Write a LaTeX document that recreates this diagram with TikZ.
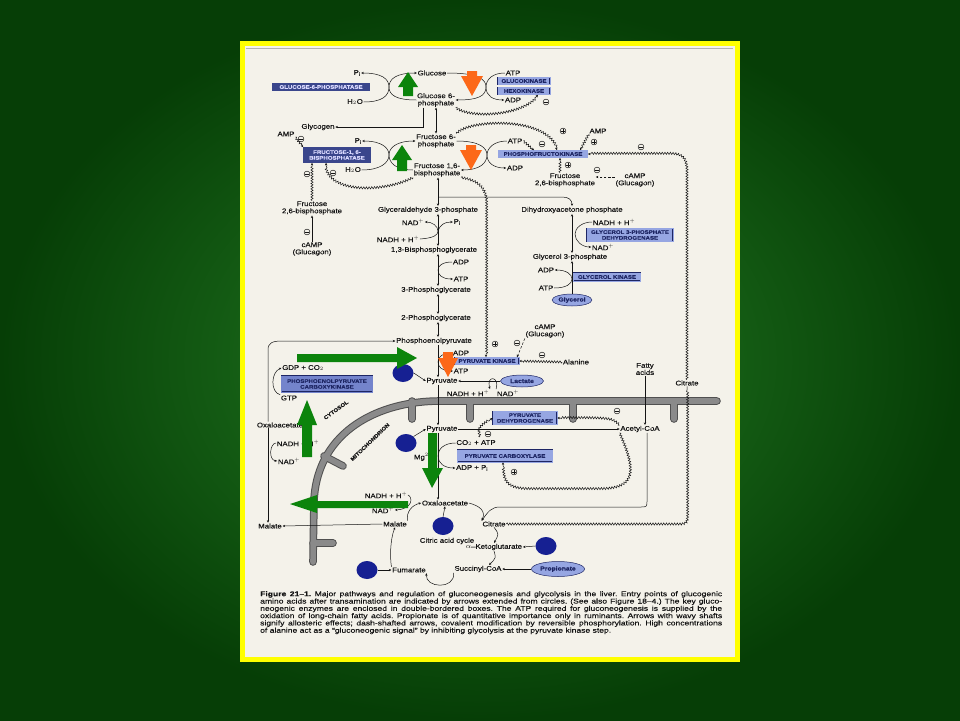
\documentclass[tikz,border=0pt]{standalone}
\usepackage{fontspec}
\setmainfont{Liberation Sans}[FakeStretch=1.15, FakeBold=0.2]
\newfontfamily\capfont{Liberation Sans}[FakeStretch=1.24, FakeBold=0.3]
\usetikzlibrary{arrows.meta,shapes.geometric,decorations.pathmorphing}
\definecolor{bginner}{RGB}{36,126,36}
\definecolor{bgouter}{RGB}{6,62,6}
\definecolor{framey}{RGB}{255,255,0}
\definecolor{paper}{RGB}{244,242,234}
\definecolor{boxfill}{RGB}{150,166,226}
\definecolor{boxline}{RGB}{30,38,100}
\definecolor{darkbox}{RGB}{58,70,140}
\definecolor{midbox}{RGB}{116,132,204}
\definecolor{aablue}{RGB}{22,32,146}
\definecolor{arrowgreen}{RGB}{12,132,12}
\definecolor{arroworange}{RGB}{252,104,24}
\definecolor{membranegray}{RGB}{138,138,138}
\definecolor{membraneedge}{RGB}{80,80,80}
\definecolor{ink}{RGB}{20,20,20}
\tikzset{
  >={Stealth[length=2.6pt,width=2.3pt]},
  lbl/.style={font=\fontsize{6.8}{7.2}\selectfont, inner sep=0.6pt, align=center, text=ink},
  enz/.style={draw=boxline, double=boxfill, double distance=0.6pt, line width=0.5pt, fill=boxfill,
    font=\bfseries\fontsize{5.3}{5.8}\selectfont, text=boxline, inner sep=1pt, align=center},
  darkenz/.style={enz, double=darkbox, fill=darkbox, text=white!85!blue},
  midenz/.style={enz, double=midbox, fill=midbox},
  ell/.style={ellipse, draw=boxline, line width=0.5pt, fill=boxfill, font=\bfseries\fontsize{5.9}{6.2}\selectfont,
    text=boxline, inner sep=0.5pt},
  aa/.style={ellipse, fill=aablue, minimum width=21pt, minimum height=18pt},
  conn/.style={draw=ink, line width=0.5pt},
  dasharr/.style={conn, dash pattern=on 2.6pt off 1.6pt},
  wavy/.style={draw=ink, line width=0.5pt, decorate,
    decoration={snake, amplitude=1.1pt, segment length=2.7pt, post length=2.6pt}},
  sgn/.style={circle, draw=ink, line width=0.5pt, inner sep=0pt, minimum size=5.8pt},
  inh/.style={sgn, path picture={\draw[ink, line width=0.6pt]
    ([xshift=-1.7pt]path picture bounding box.center) -- ([xshift=1.7pt]path picture bounding box.center);}},
  act/.style={sgn, path picture={\draw[ink, line width=0.6pt]
    ([xshift=-1.7pt]path picture bounding box.center) -- ([xshift=1.7pt]path picture bounding box.center)
    ([yshift=-1.7pt]path picture bounding box.center) -- ([yshift=1.7pt]path picture bounding box.center);}},
  region/.style={font=\bfseries\fontsize{5.2}{5.6}\selectfont, text=ink, inner sep=0pt}
}
\begin{document}
\begin{tikzpicture}[x=1pt,y=-1pt]

\def\GREENARR{arrowgreen}
\def\ORANGEARR{arroworange}
	\useasboundingbox (0,0) rectangle (960,720);
	\shade[inner color=bginner, outer color=bgouter] (0,0) rectangle (960,720);
	\draw[framey, line width=5pt, fill=paper] (242.5,43.5) rectangle (737.5,659.5);
	\draw[black!30, line width=0.6pt] (246,48) -- (733,48);

	% membrane
	\foreach \w/\c in {7.6/membraneedge,5.6/membranegray} {
	  \draw[\c, line width=\w pt, line cap=round] (717,401) -- (440,401) .. controls (380,401) and (318,430) .. (314,500) -- (313,562);
	  \foreach \cx in {412,470,573,674}
	    \draw[\c, line width=\w pt, line cap=round] (\cx,401) -- (\cx,419);
	  \draw[\c, line width=\w pt, line cap=round] (324,456) -- (343,466);
	  \draw[\c, line width=\w pt, line cap=round] (313,543) -- (333,543);
	}
	\node[region, rotate=36] (cyto) at (336,410) {CYTOSOL};
	\node[region, rotate=44] (mito) at (370,442) {MITOCHONDRION};

	\coordinate (ax) at (438,0);
	\coordinate (ax2) at (572,0);
	\coordinate (lft) at (268,0);

	% glucose step
	\node[lbl] (pi1) at (357,73) {P$_\mathrm{i}$};
	\node[darkenz, minimum width=97pt, minimum height=7pt] (gpase) at (321,87) {GLUCOSE-6-PHOSPHATASE};
	\node[lbl] (hoh1) at (355,102) {H$_2$O};
	\node[lbl] (glc) at (432,73) {Glucose};
	\node[lbl] (g6p) at (436,100) {Glucose 6-\\phosphate};
	\node[lbl] (atp1) at (513,73) {ATP};
	\node[enz, minimum width=52pt, minimum height=7pt] (gk) at (524,81) {GLUCOKINASE};
	\node[enz, minimum width=52pt, minimum height=7pt] (hk) at (524,91) {HEXOKINASE};
	\node[lbl] (adp1) at (513,100) {ADP};
	\node[inh] (i1) at (546,102) {};
	\node[lbl] (glyc) at (318,127) {Glycogen};

	% fructose step
	\node[lbl] (amp1) at (286,134) {AMP};
	\node[inh] (i2) at (301,139) {};
	\node[darkenz, minimum width=67pt, minimum height=15pt] (fbpase) at (337,155) {FRUCTOSE-1, 6-\\BISPHOSPHATASE};
	\node[lbl] (pi2) at (358,141) {P$_\mathrm{i}$};
	\node[lbl] (hoh2) at (353,170) {H$_2$O};
	\node[lbl] (f6p) at (436,141) {Fructose 6-\\phosphate};
	\node[lbl] (fbp) at (437,170) {Fructose 1,6-\\bisphosphate};
	\node[lbl] (atp2) at (515,141) {ATP};
	\node[enz, minimum width=89pt, minimum height=7pt] (pfk) at (543,154) {PHOSPHOFRUCTOKINASE};
	\node[lbl] (adp2) at (515,168) {ADP};
	\node[inh] (i3) at (542,144) {};
	\node[act] (a1) at (563,131) {};
	\node[lbl] (amp2) at (598,131) {AMP};
	\node[act] (a2) at (594,142) {};
	\node[act] (a3) at (568,165) {};
	\node[lbl] (f26bpb) at (565,180) {Fructose\\2,6-bisphosphate};
	\node[lbl] (camp1) at (635,180) {cAMP\\(Glucagon)};
	\node[inh] (i4) at (597,170) {};
	\node[inh] (i5) at (641,147) {};
	\node[inh] (i6) at (307,174) {};
	\node[inh] (i7) at (333,173) {};
	\node[lbl] (f26bpa) at (312,208) {Fructose\\2,6-bisphosphate};
	\node[inh] (i8) at (307,232) {};
	\node[lbl] (camp2) at (312,249) {cAMP\\(Glucagon)};

	% triose and glycolysis
	\node[lbl] (gap) at (428,210) {Glyceraldehyde 3-phosphate};
	\node[lbl] (nad1) at (413,222) {NAD$^+$};
	\node[lbl] (pi3) at (457,222) {P$_\mathrm{i}$};
	\node[lbl] (nadh1) at (398,239) {NADH + H$^+$};
	\node[lbl] (bpg) at (434,250) {1,3-Bisphosphoglycerate};
	\node[lbl] (adp3) at (461,262) {ADP};
	\node[lbl] (atp3) at (461,279) {ATP};
	\node[lbl] (pg3) at (436,290) {3-Phosphoglycerate};
	\node[lbl] (pg2) at (436,318) {2-Phosphoglycerate};
	\node[lbl] (pep) at (434,341) {Phosphoenolpyruvate};
	\node[lbl] (dhap) at (572,210) {Dihydroxyacetone phosphate};
	\node[lbl] (nadh2) at (614,222) {NADH + H$^+$};
	\node[enz, minimum width=86pt, minimum height=13pt] (gpdh) at (630,235) {GLYCEROL 3-PHOSPHATE\\DEHYDROGENASE};
	\node[lbl] (nad2) at (603,247) {NAD$^+$};
	\node[lbl] (g3p) at (570,257) {Glycerol 3-phosphate};
	\node[lbl] (adp4) at (546,270) {ADP};
	\node[lbl] (atp4) at (546,288) {ATP};
	\node[enz, minimum width=67pt, minimum height=8pt] (glk) at (607,277) {GLYCEROL KINASE};
	\node[ell, minimum width=31pt, minimum height=12pt] (glyl) at (572,300) {Glycerol};

	% pyruvate kinase
	\node[lbl] (camp3) at (545,331) {cAMP\\(Glucagon)};
	\node[act] (a4) at (495,344) {};
	\node[inh] (i9) at (517,343) {};
	\node[enz, minimum width=64pt, minimum height=7pt] (pk) at (487,361) {PYRUVATE KINASE};
	\node[lbl] (ala) at (576,362) {Alanine};
	\node[inh] (i10) at (542,355) {};
	\node[lbl] (adp5) at (461,353) {ADP};
	\node[lbl] (atp5) at (461,371) {ATP};
	\node[lbl] (pyr1) at (442,381) {Pyruvate};
	\node[aa] (c1) at (403,373) {};
	\node[ell, minimum width=43pt, minimum height=12pt] (lac) at (522,381) {Lactate};
	\node[lbl] (nadh3) at (468,393) {NADH + H$^+$};
	\node[lbl] (nad3) at (508,393) {NAD$^+$};
	\node[lbl] (fa) at (645,369) {Fatty\\acids};
	\node[lbl] (citc) at (687,383) {Citrate};

	% PEPCK
	\node[lbl] (gdp) at (303,368) {GDP + CO$_2$};
	\node[midenz, minimum width=91pt, minimum height=16pt] (pepck) at (327,384) {PHOSPHOENOLPYRUVATE\\CARBOXYKINASE};
	\node[lbl] (gtp) at (289,398) {GTP};
	\node[lbl] (oaac) at (280,425) {Oxaloacetate};
	\node[lbl] (nadh4) at (298,443) {NADH + H$^+$};
	\node[lbl] (nad4) at (289,461) {NAD$^+$};
	\node[lbl] (malc) at (270,526) {Malate};

	% mitochondrion
	\node[lbl] (pyr2) at (442,429) {Pyruvate};
	\node[enz, minimum width=64pt, minimum height=13pt] (pdh) at (525,418) {PYRUVATE\\DEHYDROGENASE};
	\node[lbl] (acoa) at (640,429) {Acetyl-CoA};
	\node[inh] (i11) at (617,411) {};
	\node[inh] (i12) at (488,434) {};
	\node[aa] (c2) at (406,443) {};
	\node[lbl] (co2atp) at (476,443) {CO$_2$ + ATP};
	\node[lbl] (mg) at (424,457) {Mg$^{2+}$};
	\node[enz, minimum width=95pt, minimum height=12pt] (pc) at (505,456) {PYRUVATE CARBOXYLASE};
	\node[lbl] (adppi) at (472,468) {ADP + P$_\mathrm{i}$};
	\node[act] (a5) at (514,472) {};
	\node[lbl] (oaam) at (445,503) {Oxaloacetate};
	\node[lbl] (nadh5) at (386,495) {NADH + H$^+$};
	\node[lbl] (nad5) at (383,510) {NAD$^+$};
	\node[lbl] (malm) at (395,524) {Malate};
	\node[lbl] (cit) at (494,524) {Citrate};
	\node[aa] (c3) at (443,526) {};
	\node[lbl] (cac) at (447,541) {Citric acid cycle};
	\node[lbl] (akg) at (494,547) {$\alpha$–Ketoglutarate};
	\node[aa] (c4) at (546,546) {};
	\node[lbl] (fum) at (409,570) {Fumarate};
	\node[aa] (c5) at (367,570) {};
	\node[lbl] (succ) at (478,569) {Succinyl-CoA};
	\node[ell, minimum width=53pt, minimum height=15pt] (prop) at (558,569) {Propionate};

	% connectors, top
	\coordinate (m1) at (389,87);
	\draw[conn,<-] (pi1.east) .. controls (382,73) and (389,79) .. (m1) .. controls (389,96) and (382,102) .. (hoh1.east);
	\draw[conn,->] (g6p.west) .. controls (396,100) and (389,95) .. (m1) .. controls (389,79) and (396,73) .. (glc.west);
	\coordinate (m2) at (486,87);
	\draw[conn,->] (glc.east) .. controls (478,73) and (486,79) .. (m2) .. controls (486,96) and (478,100) .. (g6p.east);
	\draw[conn,->] (atp1.west) .. controls (493,73) and (486,79) .. (m2) .. controls (486,96) and (493,100) .. (adp1.west);
	\coordinate (m3) at (389,155);
	\draw[conn,<-] (pi2.east) .. controls (382,141) and (389,148) .. (m3) .. controls (389,163) and (380,170) .. (hoh2.east);
	\draw[conn,->] (fbp.west) .. controls (396,170) and (389,163) .. (m3) .. controls (389,148) and (396,141) .. (f6p.west);
	\coordinate (m4) at (487,155);
	\draw[conn,->] (f6p.east) .. controls (480,141) and (487,148) .. (m4) .. controls (487,163) and (480,170) .. (fbp.east);
	\draw[conn,->] (atp2.west) .. controls (494,141) and (487,148) .. (m4) .. controls (487,163) and (494,168) .. (adp2.west);
	\draw[conn,->] ([xshift=-13pt]g6p.south) |- (glyc.east);
	\draw[conn,<->] (g6p.south) -- (f6p.north);
	\draw[wavy,->] (g6p.south east) .. controls (470,118) and (522,116) .. ([xshift=14pt]hk.south);
	\draw[wavy,->] (f6p.north east) .. controls (468,120) and (548,116) .. ([xshift=14pt]pfk.north);
	\draw[wavy,->] (amp2.south west) -- ([xshift=37pt]pfk.north);
	\draw[wavy,->] (atp2.east) -- ([xshift=-9pt]pfk.north);
	\draw[wavy,->] ([xshift=-5pt]f26bpb.north) -- ([xshift=17pt]pfk.south);
	\draw[dasharr,->] ([yshift=3pt]camp1.west) -- ([yshift=3pt]f26bpb.east);
	\draw[wavy,->] (citc.north) -- (687,172) .. controls (687,158) and (682,154) .. (670,154) -- (pfk.east);
	\draw[wavy,->] (amp1.south east) -- (fbpase.north west);
	\draw[wavy,->] (fbp.south west) .. controls (385,192) and (326,194) .. ([xshift=-11pt]fbpase.south);
	\draw[wavy,->] (f26bpa.north) -- (f26bpa.north |- fbpase.south);
	\draw[conn,->] (camp2.north) -- (f26bpa.south);

	% glycolysis
	\draw[conn,<->] (fbp.south -| ax) -- (gap.north -| ax);
	\coordinate (br1) at (438,197);
	\draw[conn,->] (br1) -- (562,197) .. controls (569,197) and (572,200) .. (dhap.north -| ax2);
	\draw[wavy,->] (fbp.south east) .. controls (476,180) and (486,186) .. (486,204) -- ([xshift=-1pt]pk.north);
	\foreach \a/\b in {gap/bpg,bpg/pg3,pg3/pg2,pg2/pep}
	  \draw[conn,<->] (\a.south -| ax) -- (\b.north -| ax);
	\coordinate (k1) at (438,231);
	\draw[conn,->] (nadh1.east) .. controls (434,238) and (438,235) .. (k1) .. controls (438,226) and (432,222) .. (nad1.east);
	\draw[conn,->] (k1) .. controls (440,225) and (444,222) .. (pi3.west);
	\coordinate (k2) at (438,270);
	\draw[conn,->] (adp3.west) .. controls (442,262) and (438,266) .. (k2) .. controls (438,275) and (442,279) .. (atp3.west);
	\draw[conn,<->] (dhap.south -| ax2) -- (g3p.north -| ax2);
	\coordinate (k3) at (575,234);
	\draw[conn,->] (nadh2.west) .. controls (582,222) and (575,228) .. (k3) .. controls (575,241) and (582,247) .. (nad2.west);
	\draw[conn,->] (glyl.north) -- (g3p.south -| ax2);
	\coordinate (k4) at (572,279);
	\draw[conn,->] (atp4.east) .. controls (566,288) and (572,284) .. (k4) .. controls (572,274) and (566,270) .. (adp4.east);

	% pyruvate
	\draw[dasharr,->] (camp3.south west) -- ([xshift=30pt]pk.north);
	\draw[wavy,->] (ala.west) -- (pk.east);
	\draw[conn,->] (pep.south -| ax) -- (pyr1.north -| ax);
	\coordinate (k5) at (438,362);
	\draw[conn,->] (adp5.west) .. controls (442,353) and (438,357) .. (k5) .. controls (438,367) and (442,371) .. (atp5.west);
	\draw[conn,->] (c1.east) -- (pyr1.west);
	\draw[conn,->] (lac.west) -- (pyr1.east);
	\draw[conn,->] (nad3.north west) .. controls (500,376) and (486,375) .. (nadh3.north east);
	\draw[conn,->] (gtp.north west) .. controls (270,392) and (271,372) .. (gdp.west);
	\draw[conn,->] (oaac.north -| lft) -- (268,350) .. controls (268,343) and (272,341) .. (282,341) -- (pep.west);
	\draw[conn,->] (oaac.south -| lft) -- (malc.north -| lft);
	\draw[conn,->] (nadh4.west) .. controls (270,443) and (268,460) .. (nad4.west);

	% mitochondrion
	\draw[conn,->] (pyr1.south -| ax) -- (pyr2.north -| ax);
	\draw[conn,->] (pyr2.east) -- (acoa.west);
	\draw[conn,->] (fa.south) -- (fa.south |- acoa.north);
	\draw[wavy,->] (acoa.north west) .. controls (612,418) .. (pdh.east);
	\coordinate (w1) at (480,437);
	\draw[wavy,->] (w1) .. controls (478,428) .. (pdh.west);
	\draw[conn,->] (c2.north east) -- (pyr2.west);
	\coordinate (k7) at (438,456);
	\draw[conn,->] (co2atp.west) .. controls (444,443) and (438,449) .. (k7) .. controls (438,463) and (444,468) .. (adppi.west);
	\draw[wavy,->] (acoa.south west) .. controls (636,470) and (636,488) .. (600,488) -- (530,488) .. controls (505,488) and (503,480) .. ([xshift=-2pt]pc.south);
	\draw[conn,->] (pyr2.south -| ax) -- (oaam.north -| ax);
	\draw[conn,->] ([xshift=7pt]acoa.south) -- (647,500) .. controls (647,507) .. (640,507) -- (500,507) .. controls (491,507) and (488,512) .. (cit.north west);
	\draw[wavy] (cit.east) -- (680,524) .. controls (687,524) and (687,520) .. (687,514) -- (citc.south);
	\draw[conn,->] (oaam.east) .. controls (480,506) and (486,511) .. (cit.north west);
	\draw[conn,->] (cit.south) .. controls (499,534) .. (akg.north);
	\draw[conn,->] (akg.south) .. controls (496,558) .. (489,565);
	\draw[conn,->] (succ.south west) .. controls (455,590) and (425,588) .. (fum.south east);
	\draw[conn,->] (fum.north west) .. controls (390,558) and (390,540) .. (malm.south);
	\draw[conn,->] (malm.north east) .. controls (406,512) and (412,505) .. (oaam.west);
	\draw[conn,->] (nadh5.east) .. controls (413,497) and (413,509) .. (nad5.east);
	\draw[conn,->] (malm.west) -- (malc.east);
	\draw[conn,->] (c3.north) -- (oaam.south);
	\draw[conn,->] (c4.west) -- (akg.east);
	\draw[conn,->] (c5.east) -- (fum.west);
	\draw[conn,->] (prop.west) -- (succ.east);

	% overlay arrows
	\fill[\GREENARR] (408,72) -- (418,87) -- (413,87) -- (413,96) -- (403,96) -- (403,87) -- (398,87) -- cycle;
	\fill[\GREENARR] (402,145) -- (412,160) -- (407,160) -- (407,171) -- (397,171) -- (397,160) -- (392,160) -- cycle;
	\fill[\ORANGEARR] (472,96) -- (483,76) -- (477,76) -- (477,71) -- (467,71) -- (467,76) -- (461,76) -- cycle;
	\fill[\ORANGEARR] (471,170) -- (482,150) -- (476,150) -- (476,145) -- (466,145) -- (466,150) -- (460,150) -- cycle;
	\fill[\ORANGEARR] (448,377) -- (458,358) -- (453,358) -- (453,352) -- (443,352) -- (443,358) -- (438,358) -- cycle;
	\fill[\GREENARR] (417,358) -- (397,347) -- (397,354) -- (297,354) -- (297,362) -- (397,362) -- (397,369) -- cycle;
	\fill[\GREENARR] (307,400) -- (317,425) -- (312,425) -- (312,457) -- (302,457) -- (302,425) -- (297,425) -- cycle;
	\fill[\GREENARR] (432,488) -- (443,468) -- (437,468) -- (437,433) -- (428,433) -- (428,468) -- (422,468) -- cycle;
	\fill[\GREENARR] (290,504) -- (317,495) -- (317,501) -- (408,501) -- (408,508) -- (317,508) -- (317,513) -- cycle;

	\node[anchor=north west, inner sep=0pt, text width=462pt, align=justify, text=ink,
	  font=\capfont\fontsize{6.9}{7.3}\selectfont\frenchspacing] (caption) at (260,591)
	  {\textbf{Figure 21–1.} Major pathways and regulation of gluconeogenesis and glycolysis in the liver. Entry points of glucogenic\linebreak
	   amino acids after transamination are indicated by arrows extended from circles. (See also Figure 18–4.) The key gluco-\linebreak
	   neogenic enzymes are enclosed in double-bordered boxes. The ATP required for gluconeogenesis is supplied by the\linebreak
	   oxidation of long-chain fatty acids. Propionate is of quantitative importance only in ruminants. Arrows with wavy shafts\linebreak
	   signify allosteric effects; dash-shafted arrows, covalent modification by reversible phosphorylation. High concentrations\linebreak
	   of alanine act as a “gluconeogenic signal” by inhibiting glycolysis at the pyruvate kinase step.};

\end{tikzpicture}
\end{document}
